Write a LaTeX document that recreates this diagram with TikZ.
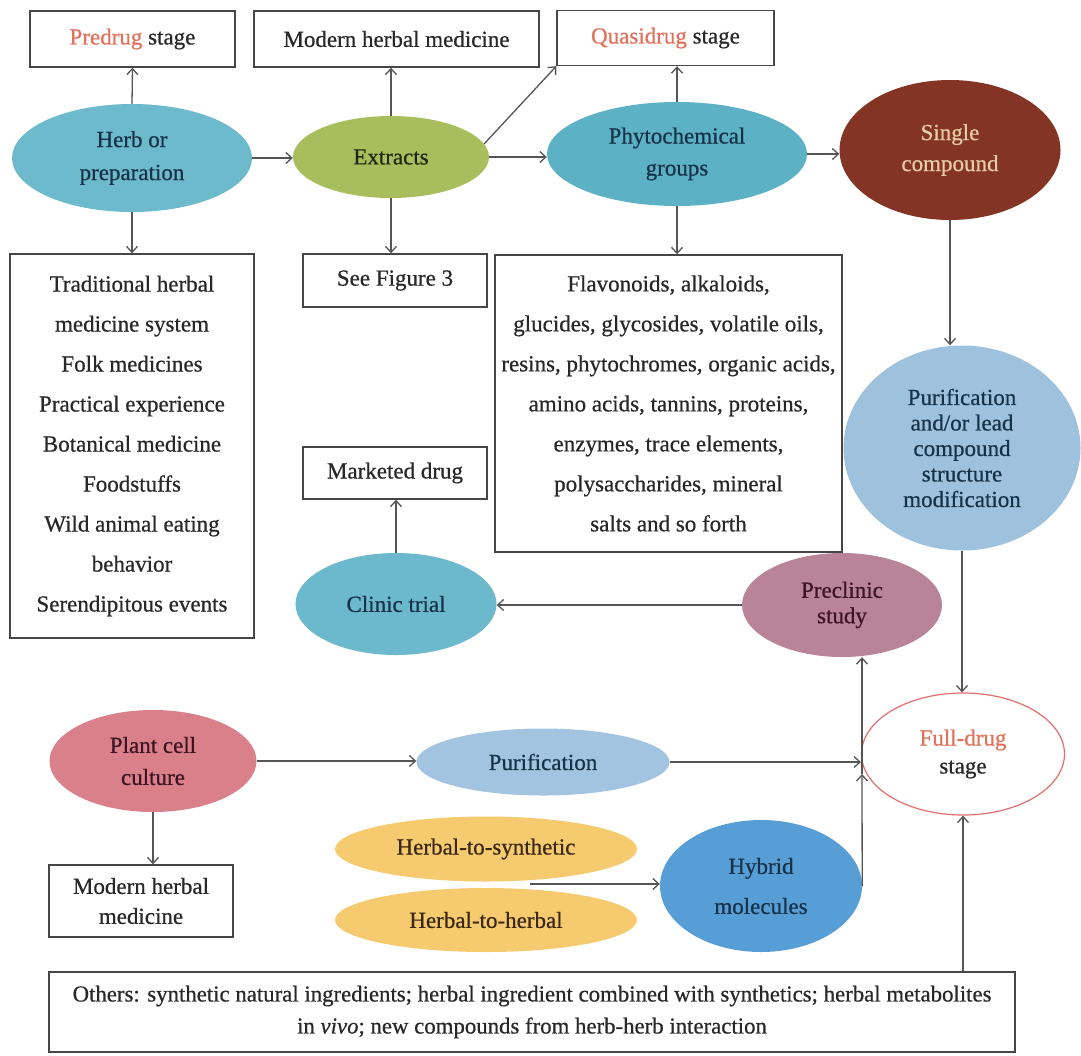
\documentclass[tikz,border=0pt]{standalone}
\usepackage{fontspec}
\setmainfont{Liberation Serif}[FakeBold=0.6]
\usetikzlibrary{shapes.geometric,arrows.meta,calc}
\definecolor{boxc}{RGB}{70,70,70}
\definecolor{arrc}{RGB}{85,85,85}
\definecolor{txtc}{RGB}{40,40,40}
\definecolor{herbc}{RGB}{108,186,204}
\definecolor{extc}{RGB}{168,190,92}
\definecolor{phyc}{RGB}{92,178,196}
\definecolor{singc}{RGB}{132,52,36}
\definecolor{singt}{RGB}{232,204,168}
\definecolor{plc}{RGB}{158,194,222}
\definecolor{prec}{RGB}{186,132,152}
\definecolor{clinc}{RGB}{108,184,204}
\definecolor{plantc}{RGB}{218,128,138}
\definecolor{pur2c}{RGB}{162,196,224}
\definecolor{yelc}{RGB}{246,202,110}
\definecolor{hybc}{RGB}{88,158,214}
\definecolor{fullc}{RGB}{226,110,110}
\definecolor{redt}{RGB}{226,112,90}
\definecolor{navy}{RGB}{22,50,72}
\definecolor{darkg}{RGB}{30,42,16}
\definecolor{maroon}{RGB}{60,20,36}
\definecolor{brownt}{RGB}{58,40,20}
\begin{document}
\begin{tikzpicture}[x=1pt,y=-1pt,
  every node/.style={font=\fontsize{23}{30}\selectfont, inner sep=0pt, align=center, text=txtc},
  box/.style={rectangle, draw=boxc, line width=1.4pt, fill=white},
  ell/.style={ellipse, draw=none},
  arr/.style={draw=arrc, line width=1.3pt, -{Straight Barb[length=6pt,width=11pt]}},
]
\useasboundingbox (0,0) rectangle (1081,1055);
\fill[white] (0,0) rectangle (1081,1055);

% top boxes
\node[box, minimum width=205pt, minimum height=56pt] (predrug) at (132.5,39) {{\color{redt}Predrug} stage};
\node[box, minimum width=285pt, minimum height=56pt] (mod1) at (396.5,39) {Modern herbal medicine};
\node[box, minimum width=217pt, minimum height=55pt] (quasi) at (665.5,38) {{\color{redt}Quasidrug} stage};

% first row ellipses
\node[ell, fill=herbc, minimum width=240pt, minimum height=108pt, text=navy, font=\fontsize{23}{33}\selectfont] (herb) at (132,158) {Herb or\\preparation};
\node[ell, fill=extc, minimum width=196pt, minimum height=82pt, text=darkg] (ext) at (391,157) {Extracts};
\node[ell, fill=phyc, minimum width=260pt, minimum height=104pt, text=navy, font=\fontsize{23}{32}\selectfont] (phy) at (677,154) {Phytochemical\\groups};
\node[ell, fill=singc, minimum width=221pt, minimum height=140pt, text=singt, font=\fontsize{23}{31}\selectfont] (single) at (950,150) {Single\\compound};

% second row boxes
\node[box, minimum width=244pt, minimum height=384pt, font=\fontsize{23}{40}\selectfont] (trad) at (132,446) {Traditional herbal\\medicine system\\Folk medicines\\Practical experience\\Botanical medicine\\Foodstuffs\\Wild animal eating\\behavior\\Serendipitous events};
\node[box, minimum width=184pt, minimum height=53pt] (seefig) at (395,280.5) {See Figure 3};
\node[box, minimum width=347pt, minimum height=297pt, font=\fontsize{23}{40}\selectfont] (big) at (668.5,403.5) {Flavonoids, alkaloids,\\glucides, glycosides, volatile oils,\\resins, phytochromes, organic acids,\\amino acids, tannins, proteins,\\enzymes, trace elements,\\polysaccharides, mineral\\salts and so forth};
\node[ell, fill=plc, minimum width=237pt, minimum height=205pt, text=navy, font=\fontsize{23}{25.5}\selectfont] (plead) at (962,448) {Purification\\and/or lead\\compound\\structure\\modification};

\node[box, minimum width=184pt, minimum height=52pt] (market) at (395,473) {Marketed drug};
\node[ell, fill=clinc, minimum width=201pt, minimum height=102pt, text=navy] (clinic) at (396,604) {Clinic trial};
\node[ell, fill=prec, minimum width=200pt, minimum height=104pt, text=maroon, font=\fontsize{23}{25.5}\selectfont] (precl) at (842,605) {Preclinic\\study};

\node[ell, draw=fullc, line width=1.2pt, fill=white, minimum width=203pt, minimum height=122pt, font=\fontsize{23}{28}\selectfont] (full) at (963,754) {{\color{redt}Full-drug}\\stage};

% bottom part
\node[ell, fill=plantc, minimum width=207pt, minimum height=102pt, text=maroon, font=\fontsize{23}{32}\selectfont] (plant) at (153,761) {Plant cell\\culture};
\node[box, minimum width=184pt, minimum height=72pt] (mod2) at (141,901) {Modern herbal\\medicine};
\node[ell, fill=pur2c, minimum width=253pt, minimum height=67pt, text=navy] (pur2) at (543,762) {Purification};
\node[ell, fill=yelc, minimum width=302pt, minimum height=65pt, text=brownt] (synth) at (486,849) {Herbal-to-synthetic};
\node[ell, fill=yelc, minimum width=302pt, minimum height=64pt, text=brownt] (herbal) at (486,920) {Herbal-to-herbal};
\node[ell, fill=hybc, minimum width=202pt, minimum height=132pt, text=navy, font=\fontsize{23}{40}\selectfont] (hybrid) at (761,886) {Hybrid\\molecules};
\node[box, minimum width=966pt, minimum height=80pt, font=\fontsize{22.8}{32}\selectfont] (others) at (532,1012) {Others: synthetic natural ingredients; herbal ingredient combined with synthetics; herbal metabolites\\in \textit{vivo}; new compounds from herb-herb interaction};

% connectors
\draw[arr] (herb.north) -- (predrug.south);
\draw[arr] (herb.east) -- (herb.east -| ext.west);
\draw[arr] (herb.south) -- (trad.north);
\draw[arr] (ext.north) -- (ext.north |- mod1.south);
\draw[arr] (ext.south) -- (ext.south |- seefig.north);
\draw[arr] (ext.8) -- (quasi.south west);
\draw[arr] (ext.east) -- (ext.east -| phy.west);
\draw[arr] (phy.north) -- (phy.north |- quasi.south);
\draw[arr] (phy.south) -- (phy.south |- big.north);
\draw[arr] (phy.east) -- (phy.east -| single.west);
\draw[arr] (single.south) -- (single.south |- plead.north);
\draw[arr] (plead.south) -- (plead.south |- full.north);
\draw[arr] (precl.west) -- (precl.west -| clinic.east);
\draw[arr] (clinic.north) -- (clinic.north |- market.south);
\draw[arr] (plant.east) -- (plant.east -| pur2.west);
\draw[arr] (plant.south) -- (plant.south |- mod2.north);
\draw[arr] (pur2.east) -- (pur2.east -| full.west);
\coordinate (mix) at (530,884);
\draw[arr] (mix) -- (mix -| hybrid.west);
\coordinate (fj) at (862,774);
\draw[arr] (hybrid.east) -- (fj);
\draw[arr] (fj) -- (fj |- precl.south);
\draw[arr] (full.south |- others.north) -- (full.south);
\end{tikzpicture}
\end{document}
